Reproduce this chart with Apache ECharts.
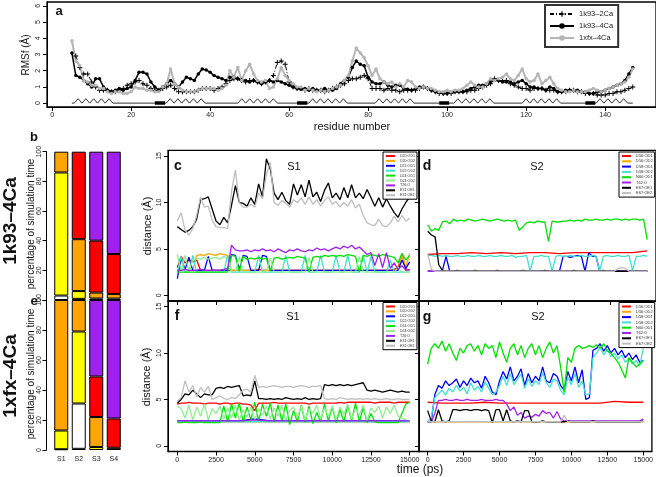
<!DOCTYPE html>
<html><head><meta charset="utf-8">
<script src="https://cdn.jsdelivr.net/npm/echarts@6/dist/echarts.min.js"></script>
<style>html,body{margin:0;padding:0;background:#fff}#c{width:656px;height:477px}</style>
</head><body><div id="c"></div>
<script>
// ---------------- Panel a: RMSF per residue ----------------
const RES_START_4CA = 5, RES_START_2CA = 6, RES_START_1XFX = 5;
const rmsf_1k93_4Ca = [3.1,1.7,1.6,1.4,1.2,1.0,1.5,1.5,1.0,0.8, 0.7,0.8,0.9,0.8,0.9,1.0,1.4,1.9,1.9,1.8,
  1.3,1.0,0.8,1.0,1.2,1.4,1.2,1.0,1.3,1.6, 1.5,1.4,1.8,2.1,2.05,1.9,1.7,1.6,1.5,1.4,
  1.6,1.6,1.5,1.4,1.4,1.3,1.4,1.3,1.2,1.3, 1.4,1.3,1.4,1.3,1.2,1.1,1.0,0.9,0.85,0.9,
  0.8,0.9,0.8,0.8,0.9,0.8,0.8,0.9,1.2,1.4, 1.6,2.2,2.6,2.4,2.3,1.6,1.3,1.2,1.2,1.3,
  1.1,1.0,1.1,1.1,0.9,0.85,0.8,0.9,1.0,1.0, 0.9,0.8,0.7,0.65,0.6,0.6,0.65,0.7,0.7,0.7,
  0.8,0.9,1.0,1.1,1.1,1.2,1.3,1.4,1.4,1.3, 1.3,1.3,1.2,1.3,1.4,1.2,1.0,1.0,0.9,0.9,
  0.8,1.0,0.9,0.7,0.7,0.8,0.8,0.8,0.8,0.7, 0.7,0.6,0.6,0.7,0.7,0.8,0.9,1.0,1.1,1.2,
  1.4,1.8,2.2];
const rmsf_1k93_2Ca = [2.9,2.2,1.8,1.8,1.3,1.0,0.8,0.8,0.8,0.7, 0.7,0.8,0.9,1.1,1.2,1.3,1.4,1.2,1.1,0.9,
  0.8,0.8,0.9,1.0,1.1,0.9,0.7,0.7,0.7,0.7, 0.7,0.8,0.9,0.9,0.9,0.8,0.9,1.0,1.2,1.4,
  1.5,1.5,1.4,1.3,1.4,1.4,1.3,1.2,1.3,1.4, 1.7,2.5,2.6,2.4,1.3,1.0,0.9,0.9,0.8,0.9,
  0.8,0.8,0.8,0.7,0.8,0.9,1.0,1.1,1.2,1.4, 1.5,1.5,1.6,1.7,1.5,0.9,0.9,0.9,0.8,0.9,
  0.8,0.8,0.7,0.8,0.8,0.8,0.8,0.9,1.0,0.9, 0.8,0.7,0.6,0.6,0.6,0.6,0.7,0.7,0.7,0.7,
  0.8,0.8,0.9,1.0,1.1,1.2,1.5,1.4,1.4,1.4, 1.2,1.1,1.0,0.9,0.9,0.8,0.9,0.9,0.9,0.8,
  0.8,0.8,0.7,0.7,0.7,0.8,0.8,0.7,0.7,0.6, 0.6,0.6,0.5,0.5,0.5,0.6,0.6,0.7,0.7,0.8,
  0.9,1.0];
const rmsf_1xfx_4Ca = [3.85,2.6,2.3,1.4,1.3,1.1,1.1,0.9,0.9,0.7, 0.6,0.7,0.7,0.6,0.6,0.7,1.0,0.9,0.9,0.8,
  0.8,0.7,0.7,1.0,1.2,2.1,1.2,1.0,0.8,0.7, 0.7,0.7,0.8,0.9,0.9,0.9,0.9,0.8,0.9,1.1,
  2.0,1.6,2.2,1.4,2.0,2.4,1.8,1.4,1.3,1.4, 0.9,1.0,1.5,2.2,1.7,1.4,1.2,1.0,1.0,0.8,
  0.9,0.8,0.7,0.8,0.7,0.8,0.9,1.0,1.1,1.4, 1.7,2.6,3.4,3.1,2.8,2.3,1.7,2.1,1.5,1.3,
  1.2,1.3,1.0,1.2,1.0,1.4,1.3,1.0,0.9,1.0, 0.9,0.9,0.8,0.7,0.7,0.8,0.7,0.8,0.8,0.9,
  1.1,1.3,1.1,1.0,1.0,1.2,1.5,1.4,1.5,1.6, 1.8,1.5,1.4,1.7,2.1,1.5,1.3,1.4,1.8,1.2,
  1.4,1.6,1.2,0.9,0.8,0.7,0.7,0.8,0.7,0.7, 0.7,0.8,0.9,0.8,0.7,0.8,0.9,1.0,1.1,1.2,
  1.3,1.6,2.1];
const RES_TICKS = [0,20,40,60,80,100,120,140];
const RMSF_TICKS = [0,1,2,3,4,5,6];
// secondary structure (residue ranges)
const SS_START = 5, SS_END = 147;
const HELICES = [[5.6,15.4],[28.9,38.7],[47,57],[65,74.7],[81.8,91.6],[101.7,111.8],[119,128.7],[137.7,145.7]];
const STRANDS = [[26,28.6],[62,64.6],[98,100.5],[135,137.5]];

// ---------------- Panels b / e: stacked bars ----------------
const SITES = ['S1','S2','S3','S4'];
const LEVEL_NAMES = ['dark','white','yellow','orange','red','purple'];
const b_dark   = [0,0.8,0,0];
const b_white  = [3,0,0,0];
const b_yellow = [83,5.2,1,1];
const b_orange = [14,35,4,3];
const b_red    = [0,59,35,27];
const b_purple = [0,0,60,69];
const e_dark   = [0.5,0.8,0,1.5];
const e_white  = [0,30.2,0,0];
const e_yellow = [12.5,48,2,0];
const e_orange = [87,21,20,0];
const e_red    = [0,0,27,19.5];
const e_purple = [0,0,51,79];

// ---------------- Panels c,d,f,g: distances vs time ----------------
const T_MAX = 15000;
const TIME_TICKS = [0,2500,5000,7500,10000,12500,15000];
const DIST_TICKS = [0,5,10,15];
const SITE1_NAMES = ['D20:OD1','D20:OD2','D22:OD1','D22:OD2','D24:OD1','D24:OD2','T26:O','E31:OE1','E31:OE2'];
const SITE2_NAMES = ['D56:OD1','D56:OD2','D58:OD1','D58:OD2','N60:OD1','T62:O','E67:OE1','E67:OE2'];

// c : 1k93-4Ca, site 1 (61 samples, 250 ps)
const c_D20_OD1 = [3.0,4.2,3.5,3.8,3.6,3.8,2.7,2.7,2.7,2.7, 2.7,2.7,2.7,2.7,2.7,2.7,2.7,2.7,2.7,2.7, 2.7,2.8,2.7,2.7,2.7,2.7,2.7,2.7,2.7,2.7, 2.7,2.7,2.7,2.7,2.7,2.7,2.7,2.7,2.7,2.7, 2.7,2.7,2.7,2.7,2.7,2.7,2.7,2.7,2.7,2.7, 2.7,2.7,2.7,2.7,2.7,2.7,2.8,3.0,4.5,2.8, 2.7];
const c_D20_OD2 = [2.7,2.7,2.8,2.7,2.7,4.3,4.4,4.3,4.5,4.4, 4.3,4.5,4.4,4.3,2.7,2.7,2.7,2.7,2.7,2.7, 2.7,2.7,2.7,2.7,2.7,2.7,2.7,2.7,2.7,2.7, 2.7,2.7,2.7,2.7,2.7,2.7,2.7,2.7,2.7,2.7, 2.7,2.7,2.7,2.7,2.7,2.7,2.7,2.7,2.7,2.7, 2.7,2.7,2.7,2.7,2.7,2.7,2.7,2.8,4.4,3.0, 4.5];
const c_D22_OD1 = [1.8,4.0,2.8,4.1,2.7,2.7,2.7,2.7,4.2,2.7, 2.7,2.7,2.7,2.7,4.4,4.3,2.8,4.3,4.2,2.7, 2.7,2.7,4.3,4.2,2.7,2.7,2.7,2.7,2.7,2.7, 2.7,2.7,2.7,2.7,2.7,2.7,2.7,2.7,2.7,2.7, 2.7,2.7,2.7,2.7,2.7,2.7,2.7,2.7,2.7,2.7, 2.7,2.7,2.7,2.7,2.7,2.7,2.7,2.7,3.8,2.9, 3.6];
const c_D22_OD2 = [2.5,4.2,2.5,2.5,4.3,2.5,2.5,2.5,2.5,2.5, 2.5,2.5,2.5,4.3,2.5,2.5,2.5,2.5,2.5,2.5, 2.5,4.3,2.5,2.5,2.5,2.5,2.5,2.5,4.3,2.5, 2.5,2.5,2.5,4.3,2.5,2.5,2.5,4.3,2.5,2.5, 2.5,4.3,2.5,2.5,4.3,2.5,2.5,2.5,4.3,2.5, 4.2,2.5,2.5,2.5,2.5,3.8,2.5,2.5,2.5,2.5, 2.5];
const c_D24_OD1 = [2.5,2.5,2.5,2.5,2.5,2.5,2.5,2.5,2.5,2.5, 2.5,2.5,2.5,2.5,4.3,4.2,2.6,4.2,3.9,4.0, 3.9,4.1,3.9,4.0,2.6,4.0,4.1,3.9,4.0,4.1, 4.0,4.2,4.1,4.0,2.5,4.1,4.2,4.1,4.3,4.2, 4.3,4.2,4.3,4.2,4.4,4.3,4.2,2.5,4.3,4.2, 4.4,4.3,4.2,4.4,4.3,4.2,4.1,3.5,4.5,3.8, 4.3];
const c_D24_OD2 = [4.4,2.6,4.3,2.6,3.8,4.0,3.9,4.1,3.9,4.0, 4.1,3.9,4.2,4.0,2.6,2.5,4.2,2.5,2.5,2.5, 2.5,2.5,2.5,2.5,4.0,2.5,2.5,2.5,2.5,2.5, 2.5,2.5,2.5,2.5,4.1,2.5,2.5,2.5,2.5,2.5, 2.5,2.5,2.5,2.5,2.5,2.5,2.5,4.2,2.5,2.5, 2.5,2.5,2.5,2.5,2.5,2.5,2.5,3.0,2.5,2.5, 2.5];
const c_T26_O   = [2.7,2.7,2.8,2.7,2.7,2.7,2.8,2.7,2.7,2.7, 2.7,2.7,2.8,2.9,5.4,4.9,4.8,4.8,4.9,4.7, 4.9,4.8,5.0,4.8,4.9,4.7,5.0,4.8,4.6,4.9, 4.8,5.0,4.8,4.7,4.9,4.8,5.1,4.9,5.0,4.8, 5.0,5.2,5.0,5.3,5.1,5.4,5.0,5.2,4.8,4.4, 4.6,3.2,4.5,3.0,4.6,2.9,3.5,2.8,3.2,2.7, 2.8];
const c_E31_OE1 = [7.4,7.1,6.8,7.0,7.4,8.2,10.3,10.4,10.6,9.3, 8.0,7.6,8.4,7.8,9.7,11.8,10.0,9.9,9.6,10.5, 9.8,12.0,10.6,14.7,13.6,11.0,10.3,11.1,10.2,9.8, 12.0,10.8,11.9,10.6,12.4,10.6,11.1,10.1,11.3,12.1, 10.5,11.0,10.3,11.6,10.5,11.9,10.5,11.0,10.4,11.4, 10.5,9.6,10.5,9.5,10.4,9.6,8.9,8.4,9.3,10.0, 10.6];
const c_E31_OE2 = [8.0,8.9,7.0,6.5,7.2,8.6,10.6,9.5,9.6,8.1, 7.4,7.3,7.3,7.2,11.2,13.5,10.0,9.5,9.5,9.8, 9.5,11.0,10.4,13.0,14.3,10.0,9.7,10.2,9.9,9.5, 10.3,10.0,10.5,9.8,10.6,9.8,10.3,9.6,10.2,10.6, 9.8,10.1,9.5,10.0,9.6,10.3,9.4,9.8,8.6,7.8, 7.6,7.5,8.2,7.5,7.4,7.8,8.5,7.9,8.6,8.0, 8.3];

// d : 1k93-4Ca, site 2
const d_D56_OD1 = [4.4,4.5,4.5,4.6,4.5,4.6,4.5,4.6,4.6,4.5,4.6,4.6,4.6,4.6,4.6,4.8];
const d_D56_OD2 = [2.6,2.6,2.6,2.6,2.6,2.6,2.6,2.6,2.6,2.6,2.6,2.6,2.6,2.6,2.6,2.6];
const d_D58_OD1 = [2.6,2.6,2.6,2.6,2.7,4.2,2.6,2.6,2.6,2.6, 2.6,2.6,2.6,2.6,2.6,2.6,2.6,2.6,2.6,2.6, 2.6,2.6,2.6,2.6,2.6,2.6,2.6,2.6,2.6,2.6, 2.6,2.6,2.6,2.6,2.6,2.6,2.6,4.2,4.2,4.1, 4.2,4.3,4.2,2.6,4.6,4.2,4.2,2.6,2.6,2.6, 2.6,2.6,2.6,2.6,2.6,2.6,2.6,2.6,2.6,2.6, 2.6];
const d_D58_OD2 = [4.3,4.3,4.2,4.3,4.2,4.3,4.2,4.2,4.3,4.2, 4.2,4.3,4.2,4.2,4.3,4.2,4.2,4.3,4.2,4.2, 4.3,4.2,4.2,4.3,4.1,4.2,4.2,4.3,2.6,4.2, 4.2,4.3,4.2,4.2,2.6,4.2,4.3,4.2,4.2,4.3, 4.2,4.2,4.3,4.2,4.2,4.3,4.2,2.6,4.2,4.3, 4.2,4.2,4.3,4.2,4.2,4.3,2.7,4.2,4.2,4.3, 4.2];
const d_N60_OD1 = [7.6,6.9,7.2,7.0,7.9,8.0,7.7,8.2,8.0,8.1, 8.0,8.2,8.1,8.0,8.1,8.2,8.1,8.0,8.1,8.2, 8.1,8.0,8.1,8.0,8.1,7.0,7.4,7.8,7.9,7.8, 8.0,7.9,7.9,5.8,8.0,7.9,7.9,8.0,8.0,8.1, 8.0,8.1,8.0,8.2,8.1,8.1,8.2,8.1,8.1,8.2, 8.1,8.2,8.2,8.1,8.2,8.1,8.2,8.2,8.1,8.2, 6.0];
const d_T62_O   = [2.6,2.6,2.6,2.6,2.6,2.6,2.6,2.6,2.6,2.6,2.6,2.6,2.6,2.6,2.6,2.6];
const d_E67_OE1 = [6.9,6.5,6.3,3.3,2.7,2.6,2.6,2.6,2.7,2.6, 2.6,2.6,2.6,2.7,2.6,2.6,2.6,2.6,2.6,2.7, 2.6,2.6,2.6,2.6,2.6,2.6,2.7,2.6,2.6,2.6, 2.6,2.6,2.7,2.6,2.6,2.6,2.6,2.6,2.6,2.6, 2.7,2.6,2.6,2.6,2.6,2.6,2.6,2.6,2.7,2.6, 2.6,2.6,2.6,2.6,2.6,2.6,2.6,2.6,2.6,2.6, 2.6];
const d_E67_OE2 = [4.4,2.8,2.6,2.6,2.6,2.6,2.6,2.6,2.6,2.6, 2.6,2.6,2.6,2.6,2.6,2.6,2.6,2.6,2.6,2.6, 2.6,2.6,2.6,2.6,2.6,2.6,2.6,2.6,2.6,2.6, 2.6,2.6,2.6,2.6,2.6,2.6,2.6,2.6,2.6,2.6, 2.6,2.6,2.6,2.6,2.6,2.6,2.6,2.6,2.6,2.6, 2.6,2.6,2.9,3.0,2.9,2.6,2.6,2.6,2.6,2.6, 2.6];

// f : 1xfx-4Ca, site 1
const f_D20_OD1 = [4.5,4.6,4.6,4.7,4.6,4.6,4.6,4.5,4.6,4.6, 4.6,4.5,4.6,4.6,4.5,4.6,4.6,4.5,4.5,4.4, 3.8,4.6,4.6,4.6,4.6,4.7,4.6,4.6,4.6,4.6, 4.6,4.6,4.6,4.6,4.5,4.6,4.6,4.6,4.6,4.6, 4.6,4.6,4.7,4.6,4.7,4.7,4.7,4.7,4.7,4.7, 4.7,4.6,4.7,4.7,4.7,4.7,4.6,4.7,4.7,4.7, 4.7];
const f_D20_OD2 = [2.6,2.6,2.6,2.6,2.6,2.6,2.6,2.6,2.6,2.6,2.6,2.6,2.6,2.6,2.6,2.6];
const f_D22_OD1 = [2.7,2.7,2.7,2.7,2.7,2.9,2.7,2.7,2.7,2.7,2.7,2.7,2.7,2.7,2.7,2.7];
const f_D22_OD2 = [2.6,2.6,2.6,2.6,2.6,2.6,2.6,2.6,2.6,2.6,2.6,2.6,2.6,2.6,2.6,2.6];
const f_D24_OD1 = [2.5,2.5,2.6,2.5,2.5,2.5,2.6,2.5,2.5,2.5, 2.5,2.5,4.3,2.6,4.5,3.0,4.6,2.6,4.2,2.8, 4.7,2.7,4.5,3.2,4.6,2.6,4.4,2.7,4.5,2.3, 3.8,2.6,4.4,2.5,4.3,2.4,3.6,2.6,4.5,2.7, 4.2,2.5,3.9,2.6,4.4,2.7,4.6,2.6,4.1,2.5, 3.5,2.6,2.5,2.5,2.5,2.5,2.5,2.5,3.5,4.5, 4.7];
const f_D24_OD2 = [4.3,4.0,3.0,4.4,2.8,4.2,3.2,4.5,2.8,4.0, 3.5,4.3,2.9,4.1,3.0,4.4,2.8,3.9,3.1,4.2, 2.8,4.0,3.3,4.3,2.9,4.1,3.2,4.4,2.7,3.8, 4.2,3.0,4.3,2.8,4.0,3.5,4.4,2.9,4.1,3.2, 4.3,2.8,4.2,3.4,4.5,2.9,4.0,3.3,4.4,2.7, 4.1,3.6,4.3,3.0,4.2,3.5,4.4,3.2,3.0,2.8, 2.7];
const f_T26_O   = [2.7,2.7,2.7,2.7,2.7,2.8,2.7,2.7,2.7,2.7,2.7,2.7,2.7,2.7,2.7,2.7];
const f_E31_OE1 = [4.6,5.0,5.6,5.5,6.0,5.6,5.2,5.6,5.5,5.5, 6.2,6.3,6.2,6.4,6.3,6.4,6.5,5.4,5.5,5.4, 7.0,5.1,5.1,5.0,5.1,5.0,5.1,5.0,5.2,5.1, 5.0,5.1,5.0,5.2,5.0,5.1,5.0,5.1,6.6,6.5, 6.6,6.5,6.6,6.5,6.6,6.5,6.6,6.7,6.8,6.0, 5.9,6.0,5.9,5.8,5.9,6.0,5.9,5.8,5.9,5.8, 5.8];
const f_E31_OE2 = [4.8,5.2,7.0,5.8,6.5,5.3,6.3,5.8,6.4,5.0, 5.2,5.4,5.1,5.0,5.2,5.1,5.5,6.0,6.1,5.8, 7.6,6.3,6.4,6.3,6.4,6.5,6.4,6.3,6.4,6.4, 6.3,6.4,6.5,6.4,6.3,6.4,6.4,6.5,5.1,5.0, 5.1,5.0,5.2,5.1,5.0,5.1,5.0,5.1,5.0,5.1, 5.0,5.1,5.0,5.0,5.1,5.0,5.0,5.1,5.0,5.0, 5.0];

// g : 1xfx-4Ca, site 2
const g_D56_OD1 = [4.7,4.6,4.6,4.6,4.7,4.6,4.6,4.6,4.6,4.6,4.6,4.6,4.6,4.8,4.7,4.7];
const g_D56_OD2 = [2.6,2.6,2.6,2.6,2.6,2.6,2.6,2.6,2.6,2.6,2.6,2.6,2.6,2.6,2.6,2.6];
const g_D58_OD1 = [2.6,2.6,5.5,6.5,6.2,7.0,6.5,6.8,7.2,6.3, 7.0,6.5,7.3,6.8,7.0,6.2,7.5,6.8,5.8,5.5, 7.0,8.0,7.2,8.5,7.0,7.5,8.3,6.5,7.8,6.8, 7.5,7.0,8.5,7.0,6.8,7.8,7.5,6.5,6.0,8.0, 7.0,8.5,6.8,8.2,5.0,5.2,10.3,10.5,11.0,10.2, 10.8,10.0,10.5,9.8,10.3,9.5,10.0,9.3,9.8,9.0, 9.2];
const g_D58_OD2 = [2.6,3.0,5.2,5.6,6.0,5.5,6.2,5.8,6.5,5.9, 6.3,5.6,6.8,6.0,6.4,5.8,6.9,6.2,5.5,5.8, 6.5,7.5,6.5,7.8,6.6,7.2,7.7,6.2,7.2,6.4, 7.0,6.6,7.9,6.8,6.3,7.2,7.0,6.0,5.5,7.4, 6.6,7.8,6.3,7.0,5.5,5.6,9.5,10.0,10.6,9.8, 10.4,9.6,10.0,9.4,9.8,9.0,9.4,8.8,9.2,8.6, 10.5];
const g_N60_OD1 = [8.8,10.5,11.0,10.5,11.3,10.2,11.0,10.0,9.2,10.5, 10.0,10.8,11.0,10.2,10.8,9.8,11.0,10.5,10.8,9.5, 11.2,10.0,9.0,10.5,11.0,9.8,10.8,9.5,10.5,11.0, 9.8,10.8,9.5,10.5,11.2,10.0,10.8,8.5,5.8,9.5, 9.0,10.5,10.8,10.5,10.6,10.8,10.6,10.9,10.5,11.0, 10.2,10.0,9.5,9.0,8.2,7.3,9.5,9.0,8.5,8.8, 9.2];
const g_T62_O   = [2.6,2.6,3.5,4.9,4.9,5.0,4.9,4.9,5.0,4.9, 4.9,5.0,4.9,4.9,4.9,5.0,4.9,4.9,4.9,5.0, 4.9,4.9,4.5,3.8,4.2,3.3,3.6,3.0,3.2,3.1, 3.4,3.2,3.8,3.5,3.6,3.0,3.7,2.9,2.7,2.7, 2.7,2.7,2.7,2.7,2.7,2.7,2.7,2.7,2.7,2.7, 2.7,2.7,2.7,2.7,2.7,2.7,2.7,2.7,2.7,2.7, 2.9];
const g_E67_OE1 = [3.8,2.7,2.6,3.9,2.7,2.6,2.7,3.9,3.9,3.8, 3.9,3.9,3.8,3.9,3.9,3.8,3.9,3.8,2.5,3.9, 3.9,2.7,3.9,2.7,2.6,2.7,2.6,3.8,3.8,2.6, 2.6,2.6,2.7,2.6,2.6,2.6,2.6,2.6,2.6,2.7, 2.6,2.6,2.6,2.6,2.6,2.6,2.7,2.6,2.6,2.6, 2.6,2.6,2.6,2.6,2.6,2.6,2.6,2.6,2.6,2.6, 2.7];
const g_E67_OE2 = [2.6,2.6,2.6,2.6,2.6,2.6,2.6,2.6,2.6,2.6, 2.6,2.6,2.6,2.6,2.6,2.6,2.6,2.6,2.6,2.6, 2.6,2.6,2.6,2.6,2.6,2.6,2.6,2.6,2.6,2.6, 2.6,2.6,2.6,2.6,2.6,2.6,2.6,2.6,3.3,2.6, 2.6,2.6,2.6,2.6,2.6,2.6,2.6,2.6,2.6,2.6, 2.6,2.6,2.6,2.6,2.6,2.6,2.6,2.6,2.6,2.6, 2.6];

// ---------------- styles ----------------
const FONT = 'Liberation Sans, Arial, Helvetica, sans-serif';
const SITE1_COLORS = ['#ff0000','#ffa500','#0000ee','#40e0d0','#00e000','#90ee90','#a020f0','#000000','#bebebe'];
const SITE2_COLORS = ['#ff0000','#ffa500','#0000ee','#40e0d0','#00e000','#a020f0','#000000','#bebebe'];
const LEVEL_COLORS = ['#8b4513','#ffffff','#ffff00','#ffa500','#ff0000','#a020f0'];

const PANEL_C = [c_D20_OD1,c_D20_OD2,c_D22_OD1,c_D22_OD2,c_D24_OD1,c_D24_OD2,c_T26_O,c_E31_OE1,c_E31_OE2];
const PANEL_D = [d_D56_OD1,d_D56_OD2,d_D58_OD1,d_D58_OD2,d_N60_OD1,d_T62_O,d_E67_OE1,d_E67_OE2];
const PANEL_F = [f_D20_OD1,f_D20_OD2,f_D22_OD1,f_D22_OD2,f_D24_OD1,f_D24_OD2,f_T26_O,f_E31_OE1,f_E31_OE2];
const PANEL_G = [g_D56_OD1,g_D56_OD2,g_D58_OD1,g_D58_OD2,g_N60_OD1,g_T62_O,g_E67_OE1,g_E67_OE2];
const B_LEVELS = [b_dark,b_white,b_yellow,b_orange,b_red,b_purple];
const E_LEVELS = [e_dark,e_white,e_yellow,e_orange,e_red,e_purple];

function ts(vals){ return vals.map((v,i)=>[i*T_MAX/(vals.length-1), v]); }
function byRes(vals, start){ return vals.map((v,i)=>[start+i, v]); }

const grids = [
  {left:47, top:2, width:609, height:105},      // 0 a
  {left:52.5, top:151.7, width:70, height:148.3}, // 1 b
  {left:52.5, top:300, width:70, height:150},   // 2 e
  {left:168, top:150.4, width:251, height:150.6}, // 3 c
  {left:419, top:150.4, width:237, height:150.6}, // 4 d
  {left:168, top:301, width:251, height:150.5},   // 5 f
  {left:419, top:301, width:237, height:150.5}    // 6 g
].map((g,i)=>Object.assign({containLabel:false, show: (i!==1 && i!==2), borderColor:'#000', borderWidth:1.3, backgroundColor:'transparent'}, g));

const AX_LINE = {show:true, onZero:false, lineStyle:{color:'#000', width:1}};
const LBL = {fontSize:7, color:'#222', fontFamily:FONT, formatter:(v)=>String(v)};

function timeX(gi, showLbl){
  return {type:'value', gridIndex:gi, min:-600, max:15600, axisLine:AX_LINE,
    axisTick:{show:true, length:4, customValues:TIME_TICKS, lineStyle:{color:'#000'}},
    axisLabel:Object.assign({show:showLbl, customValues:TIME_TICKS, margin:5}, LBL), splitLine:{show:false}};
}
function distY(gi, showLbl){
  return {type:'value', gridIndex:gi, min:-0.6, max:15.6, axisLine:AX_LINE,
    axisTick:{show:true, length:4, customValues:DIST_TICKS, lineStyle:{color:'#000'}},
    axisLabel:Object.assign({show:showLbl, customValues:DIST_TICKS, rotate:90, margin:5}, LBL), splitLine:{show:false}};
}

const xAxes = [
  {type:'value', gridIndex:0, min:-1.3, max:-1.3+609/3.95, axisLine:AX_LINE,
   axisTick:{show:true, length:4, customValues:RES_TICKS, lineStyle:{color:'#000'}},
   axisLabel:Object.assign({customValues:RES_TICKS, margin:5}, LBL), splitLine:{show:false}},
  {type:'category', gridIndex:1, data:SITES, axisLine:{show:false}, axisTick:{show:false}, axisLabel:{show:false}},
  {type:'category', gridIndex:2, data:SITES, axisLine:{show:false}, axisTick:{show:false}, axisLabel:{margin:6, fontSize:7, color:'#222', fontFamily:FONT}},
  timeX(3,false), timeX(4,false), timeX(5,true), timeX(6,true)
];
const yAxes = [
  {type:'value', gridIndex:0, min:-0.24, max:6.24, axisLine:AX_LINE,
   axisTick:{show:true, length:4, customValues:RMSF_TICKS, lineStyle:{color:'#000'}},
   axisLabel:Object.assign({customValues:RMSF_TICKS, rotate:90, margin:5}, LBL), splitLine:{show:false}},
  {type:'value', gridIndex:1, min:0, max:100, interval:20, offset:6, axisLine:AX_LINE,
   axisTick:{show:true, length:4, lineStyle:{color:'#000'}}, axisLabel:Object.assign({rotate:90, margin:4}, LBL), splitLine:{show:false}},
  {type:'value', gridIndex:2, min:0, max:100, interval:20, offset:6, axisLine:AX_LINE,
   axisTick:{show:true, length:4, lineStyle:{color:'#000'}}, axisLabel:Object.assign({rotate:90, margin:4}, LBL), splitLine:{show:false}},
  distY(3,true), distY(4,false), distY(5,true), distY(6,false)
];

const series = [];
// secondary structure track
(function(){
  const pts = [[SS_START,0]];
  HELICES.forEach(([s,e])=>{
    pts.push([s,0]);
    const n = Math.round((e-s)/1.95), st = (e-s)/n;
    for(let k=0;k<n;k++){ pts.push([s+st*(k+0.5),0.27]); pts.push([s+st*(k+1),0]); }
  });
  pts.push([SS_END,0]);
  series.push({type:'line', name:'ss', xAxisIndex:0, yAxisIndex:0, data:pts, symbol:'none', lineStyle:{color:'#333', width:1}, z:1});
  STRANDS.forEach(([s,e])=>series.push({type:'line', name:'strand', xAxisIndex:0, yAxisIndex:0, data:[[s,0],[e,0]], symbol:'none', lineStyle:{color:'#000', width:3.5}, z:1}));
})();
const PLUS = 'path://M4,0H6V4H10V6H6V10H4V6H0V4H4Z';
series.push({type:'line', name:'1k93–2Ca', xAxisIndex:0, yAxisIndex:0, data:byRes(rmsf_1k93_2Ca,RES_START_2CA),
  symbol:PLUS, symbolSize:5, itemStyle:{color:'#000'}, lineStyle:{color:'#000', width:1, type:[4,2,1,2]}});
series.push({type:'line', name:'1k93–4Ca', xAxisIndex:0, yAxisIndex:0, data:byRes(rmsf_1k93_4Ca,RES_START_4CA),
  symbol:'circle', symbolSize:3.5, itemStyle:{color:'#000'}, lineStyle:{color:'#000', width:1.5}});
series.push({type:'line', name:'1xfx–4Ca', xAxisIndex:0, yAxisIndex:0, data:byRes(rmsf_1xfx_4Ca,RES_START_1XFX),
  symbol:'circle', symbolSize:3.5, itemStyle:{color:'#b5b5b5'}, lineStyle:{color:'#b5b5b5', width:2}});

// stacked bars
[[B_LEVELS,1,'b'],[E_LEVELS,2,'e']].forEach(([levels,gi,st])=>{
  levels.forEach((vals,li)=>series.push({type:'bar', name:LEVEL_NAMES[li]+'_'+st, stack:st, xAxisIndex:gi, yAxisIndex:gi,
    data:vals.map(v=>v>0?v:'-'), barWidth:14, itemStyle:{color:LEVEL_COLORS[li], borderColor:'#000', borderWidth:1}}));
});

// distance lines
function addPanel(arrs, names, colors, gi){
  arrs.forEach((vals,k)=>series.push({type:'line', name:names[k], xAxisIndex:gi, yAxisIndex:gi, data:ts(vals),
    symbol:'none', showSymbol:false, itemStyle:{color:colors[k]}, lineStyle:{color:colors[k], width:1.3}}));
}
addPanel(PANEL_C, SITE1_NAMES, SITE1_COLORS, 3);
addPanel(PANEL_D, SITE2_NAMES, SITE2_COLORS, 4);
addPanel(PANEL_F, SITE1_NAMES, SITE1_COLORS, 5);
addPanel(PANEL_G, SITE2_NAMES, SITE2_COLORS, 6);

function smallLegend(names, left, top, fs, gap){
  return {data:names, left:left, top:top, orient:'vertical', icon:'rect', itemWidth:9, itemHeight:2, itemGap:gap,
    textStyle:{fontSize:fs, color:'#333', fontFamily:FONT, lineHeight:fs}, borderColor:'#000', borderWidth:1,
    padding:[2,2,2,3], backgroundColor:'#fff', selectedMode:false};
}
const legends = [
  {data:['1k93–2Ca','1k93–4Ca','1xfx–4Ca'], left:545, top:5, orient:'vertical', itemWidth:24, itemHeight:7, itemGap:4,
   textStyle:{fontSize:7.5, color:'#222', fontFamily:FONT}, borderColor:'#333', borderWidth:2, padding:[5,5,5,4],
   backgroundColor:'#fff', selectedMode:false},
  smallLegend(SITE1_NAMES, 383, 152, 3.6, 0.9),
  smallLegend(SITE2_NAMES, 619, 152, 4, 1.3),
  smallLegend(SITE1_NAMES, 383, 302.5, 3.6, 0.9),
  smallLegend(SITE2_NAMES, 619, 302.5, 4, 1.3)
];

function txt(t, x, y, size, opts){
  opts = opts || {};
  return {type:'text', x:x, y:y, rotation:opts.rot||0, z:100,
    style:{text:t, fill:opts.color||'#111', font:(opts.bold?'bold ':'')+size+'px '+FONT,
      align:'center', verticalAlign:'middle', textAlign:'center', textVerticalAlign:'middle'}};
}
const R90 = Math.PI/2;
const graphics = [
  txt('a', 59, 11, 13, {bold:true}),
  txt('RMSf (Å)', 26, 55, 10, {rot:R90}),
  txt('residue number', 352, 127, 11),
  txt('b', 34, 137, 13, {bold:true}),
  txt('e', 34, 301, 13, {bold:true}),
  txt('1k93–4Ca', 11, 221, 19, {bold:true, rot:R90}),
  txt('1xfx–4Ca', 11, 376, 19, {bold:true, rot:R90}),
  txt('percentage of simulation time', 31, 224, 10, {rot:R90}),
  txt('percentage of simulation time', 31, 374, 10, {rot:R90}),
  txt('c', 178, 166, 14, {bold:true}),
  txt('d', 427, 166, 14, {bold:true}),
  txt('f', 177, 316, 14, {bold:true}),
  txt('g', 427, 317, 14, {bold:true}),
  txt('S1', 294, 167, 11),
  txt('S2', 537, 167, 11),
  txt('S1', 293, 317, 11),
  txt('S2', 538, 317, 11),
  txt('distance (Å)', 148, 226, 11, {rot:R90}),
  txt('distance (Å)', 147, 377, 11, {rot:R90}),
  txt('time (ps)', 420, 470, 12)
];

const chart = echarts.init(document.getElementById('c'), null, {renderer:'canvas'});
chart.setOption({
  animation:false, backgroundColor:'#fff', textStyle:{fontFamily:FONT},
  grid:grids, xAxis:xAxes, yAxis:yAxes, series:series, legend:legends, graphic:graphics, tooltip:{show:false}
});
</script></body></html>
